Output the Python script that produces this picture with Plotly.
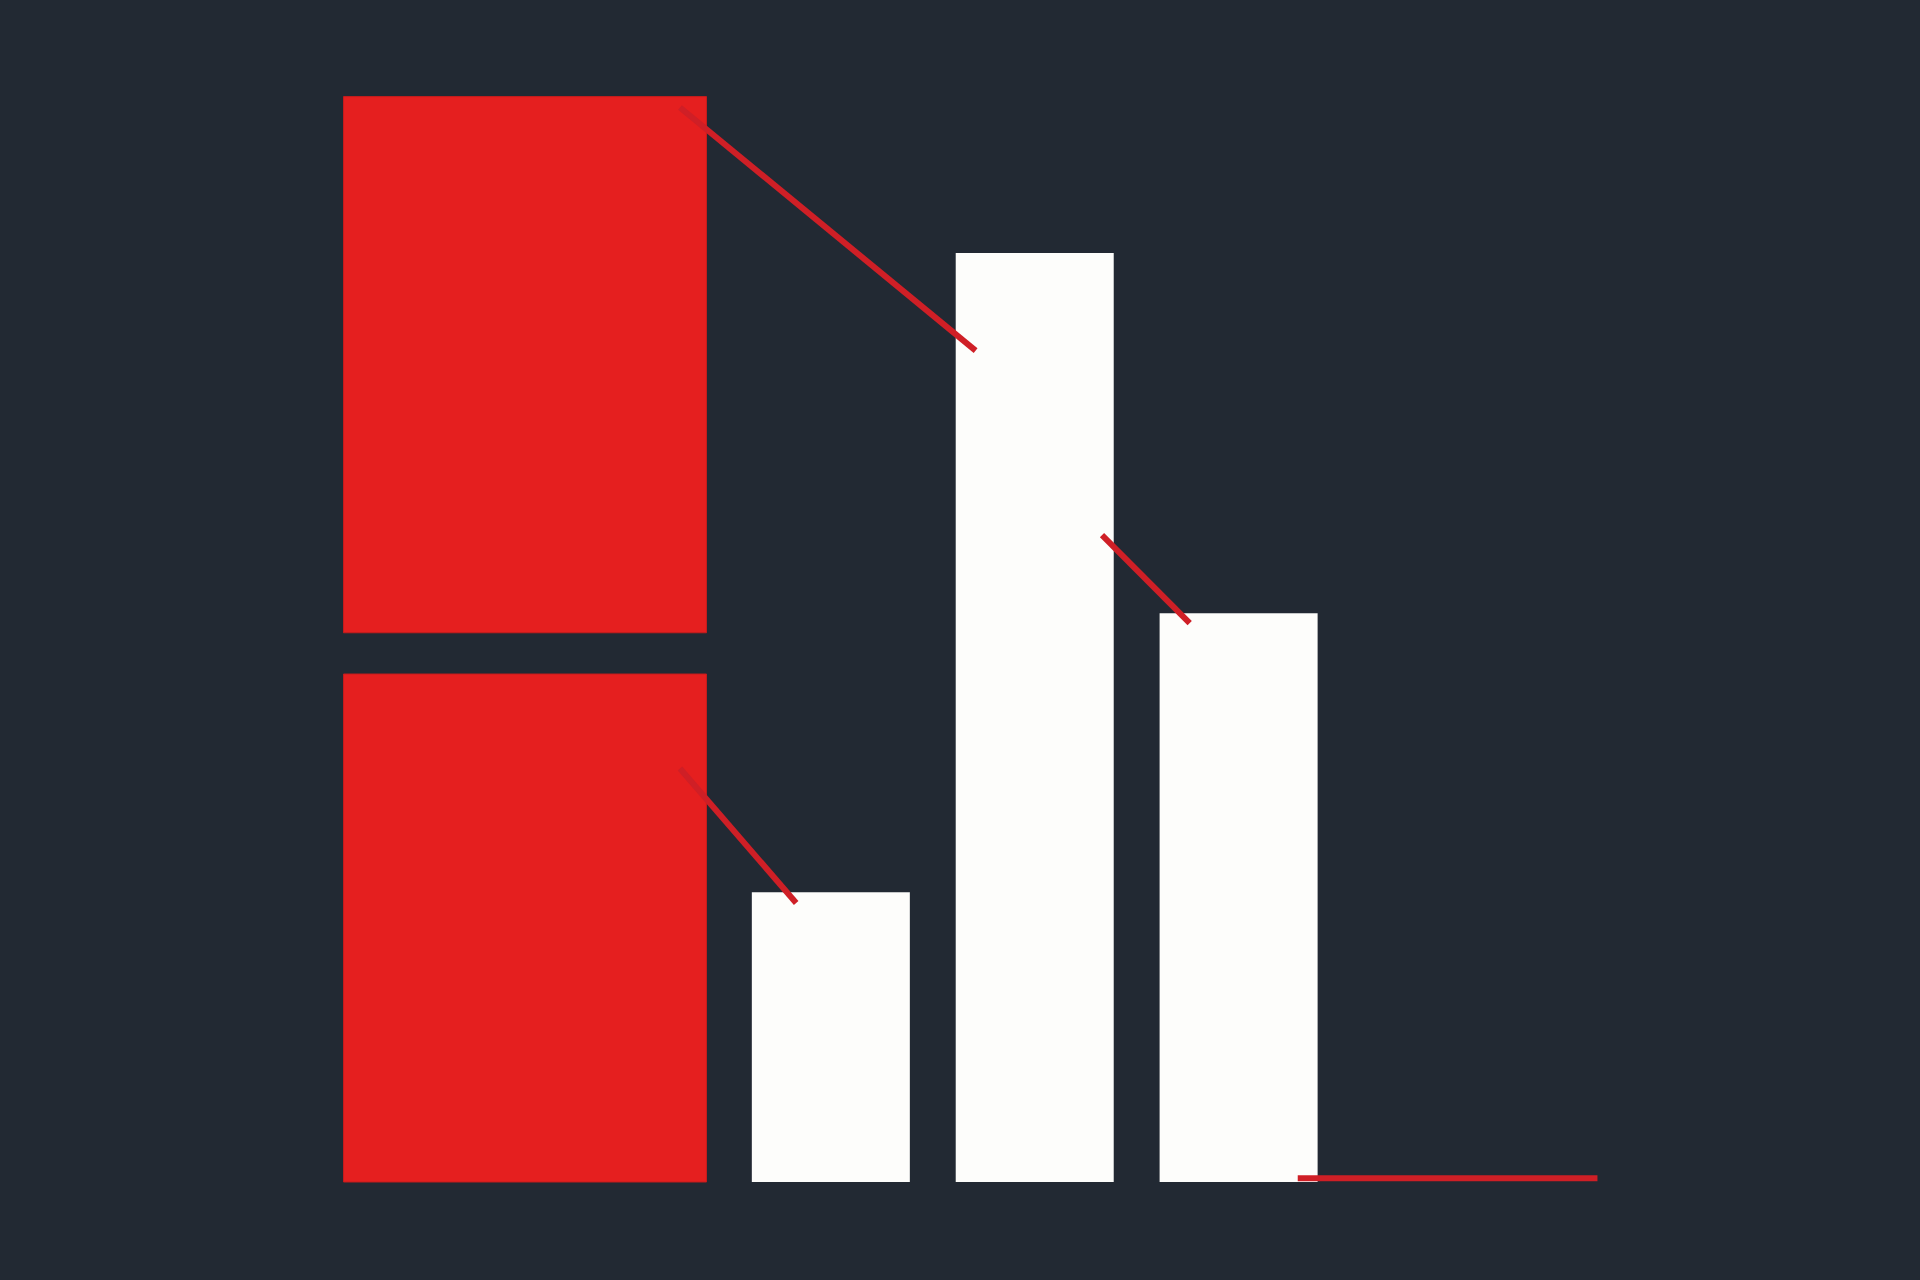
import plotly.graph_objects as go

# colours
BG = "#222933"
RED = "#e51f1f"
LINE_RED = "#cf1f26"
WHITE = "#fdfdfb"

# red stacked block (two pieces with a gap)
red_x = [-0.5, -0.5]
red_base = [0, 50.6]
red_height = [46.8, 49.4]

# white bars
white_x = [1, 2, 3]
white_values = [26.7, 85.6, 52.4]

# red connector lines (x pairs, y pairs)
link_x = [[0.26, 1.71], [2.33, 2.76], [0.26, 0.83], [3.29, 4.76]]
link_y = [[99.0, 76.6], [59.6, 51.5], [38.1, 25.7], [0.35, 0.35]]

fig = go.Figure()

fig.add_trace(
    go.Bar(
        x=red_x,
        y=red_height,
        base=red_base,
        width=1.78,
        marker=dict(color=RED, line=dict(color="#c81c1c", width=1)),
        hoverinfo="none",
    )
)
fig.add_trace(
    go.Bar(
        x=white_x,
        y=white_values,
        width=0.775,
        marker=dict(color=WHITE, line=dict(width=0)),
        hoverinfo="none",
    )
)

for xs, ys in zip(link_x, link_y):
    fig.add_trace(
        go.Scatter(
            x=xs,
            y=ys,
            mode="lines",
            line=dict(color=LINE_RED, width=6),
            hoverinfo="none",
        )
    )

fig.update_layout(
    width=1920,
    height=1280,
    showlegend=False,
    barmode="overlay",
    paper_bgcolor=BG,
    plot_bgcolor=BG,
    margin=dict(l=0, r=0, t=0, b=0, pad=0),
    xaxis=dict(range=[-3.075, 6.342], visible=False, fixedrange=True),
    yaxis=dict(range=[-9.03, 108.9], visible=False, fixedrange=True),
)

# drop the default page margin so the figure fills the window
fig.write_html(
    "out.html",
    config={"displayModeBar": False},
    post_script="document.body.style.margin='0';document.body.style.background='#222933';",
)
